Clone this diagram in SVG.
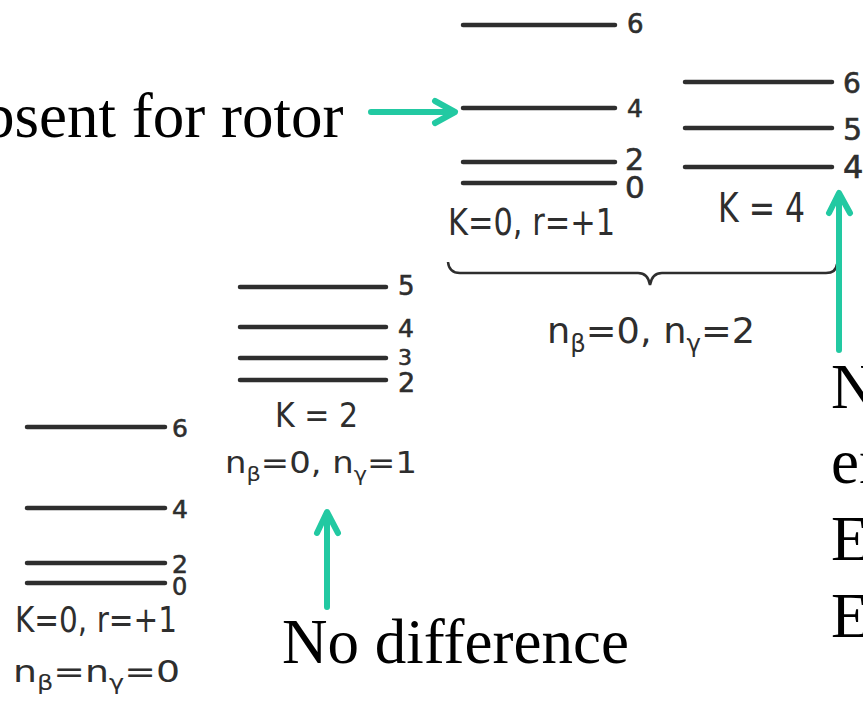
<svg xmlns="http://www.w3.org/2000/svg" width="863" height="701" viewBox="0 0 863 701">
<style>
.lvl{stroke:#2e2e2e;stroke-width:4.5;stroke-linecap:round}
.num{font-family:"DejaVu Sans","Liberation Sans",sans-serif;fill:#2e2e2e;stroke:#2e2e2e;stroke-width:0.6}
.lab{font-family:"DejaVu Sans","Liberation Sans",sans-serif;fill:#2e2e2e}
.note{font-family:"Liberation Serif","Times New Roman",serif;font-size:63px;fill:#000}
.arr{stroke:#22C9A2;stroke-width:6;stroke-linecap:round;stroke-linejoin:round;fill:none}
</style>
<rect width="863" height="701" fill="#fff"/>

<g id="band-ground">
<line class="lvl" x1="27" y1="427" x2="165" y2="427"/>
<line class="lvl" x1="27" y1="508" x2="165" y2="508"/>
<line class="lvl" x1="27" y1="563" x2="165" y2="563"/>
<line class="lvl" x1="27" y1="583" x2="165" y2="583"/>
<text class="num" x="172" y="437" font-size="25">6</text>
<text class="num" x="172" y="518" font-size="25">4</text>
<text class="num" x="172" y="573" font-size="25">2</text>
<text class="num" x="172" y="595" font-size="24">0</text>
<text class="lab" x="15" y="632" font-size="35" textLength="162" lengthAdjust="spacingAndGlyphs">K=0, r=+1</text>
<text class="lab" x="13" y="682" font-size="31" textLength="167" lengthAdjust="spacingAndGlyphs">n<tspan font-size="21" dy="8">β</tspan><tspan dy="-8">=n</tspan><tspan font-size="21" dy="8">γ</tspan><tspan dy="-8">=0</tspan></text>
</g>

<g id="band-gamma1">
<line class="lvl" x1="240" y1="287" x2="386" y2="287"/>
<line class="lvl" x1="240" y1="327" x2="386" y2="327"/>
<line class="lvl" x1="240" y1="358" x2="386" y2="358"/>
<line class="lvl" x1="240" y1="380" x2="386" y2="380"/>
<text class="num" x="398" y="295" font-size="26">5</text>
<text class="num" x="398" y="337" font-size="25">4</text>
<text class="num" x="398" y="365" font-size="22">3</text>
<text class="num" x="398" y="392" font-size="27">2</text>
<text class="lab" x="275" y="427" font-size="33" textLength="83" lengthAdjust="spacingAndGlyphs">K = 2</text>
<text class="lab" x="225" y="473" font-size="30" textLength="192" lengthAdjust="spacingAndGlyphs">n<tspan font-size="20" dy="8">β</tspan><tspan dy="-8">=0, n</tspan><tspan font-size="20" dy="8">γ</tspan><tspan dy="-8">=1</tspan></text>
</g>

<g id="band-gamma2-K0">
<line class="lvl" x1="463" y1="25" x2="615" y2="25"/>
<line class="lvl" x1="463" y1="108" x2="615" y2="108"/>
<line class="lvl" x1="463" y1="162" x2="615" y2="162"/>
<line class="lvl" x1="463" y1="183" x2="615" y2="183"/>
<text class="num" x="627" y="33" font-size="26">6</text>
<text class="num" x="627" y="117" font-size="25">4</text>
<text class="num" x="625" y="170" font-size="30">2</text>
<text class="num" x="625" y="198" font-size="31">0</text>
<text class="lab" x="448" y="235" font-size="38" textLength="167" lengthAdjust="spacingAndGlyphs">K=0, r=+1</text>
</g>

<g id="band-gamma2-K4">
<line class="lvl" x1="685" y1="82" x2="832" y2="82"/>
<line class="lvl" x1="685" y1="128" x2="832" y2="128"/>
<line class="lvl" x1="685" y1="167" x2="832" y2="167"/>
<text class="num" x="843" y="93" font-size="28">6</text>
<text class="num" x="843" y="140" font-size="30">5</text>
<text class="num" x="843" y="178" font-size="32">4</text>
<text class="lab" x="718" y="222" font-size="40" textLength="87" lengthAdjust="spacingAndGlyphs">K = 4</text>
</g>

<g id="brace-gamma2">
<path d="M448,262 Q449,273 460,273 L638,273 Q648,273 650,285 Q652,273 662,273 L826,273 Q836,273 837,264" fill="none" stroke="#2e2e2e" stroke-width="2.5"/>
<text class="lab" x="547" y="343" font-size="36" textLength="208" lengthAdjust="spacingAndGlyphs">n<tspan font-size="24" dy="9">β</tspan><tspan dy="-9">=0, n</tspan><tspan font-size="24" dy="9">γ</tspan><tspan dy="-9">=2</tspan></text>
</g>

<g id="notes">
<text class="note" x="-17" y="137">bsent for rotor</text>
<text class="note" x="282" y="663">No difference</text>
<text class="note" x="831" y="408">N</text>
<text class="note" x="831" y="483">en</text>
<text class="note" x="831" y="560">E</text>
<text class="note" x="831" y="637">E</text>
</g>

<g id="connectors">
<path class="arr" d="M371,112 L454,112 M435,101 L455,112 L435,123"/>
<path class="arr" d="M327,607 L327,513 M317,533 L327,512 L338,533"/>
<path class="arr" d="M839,350 L839,194 M829,213 L839,193 L850,213"/>
</g>
</svg>
